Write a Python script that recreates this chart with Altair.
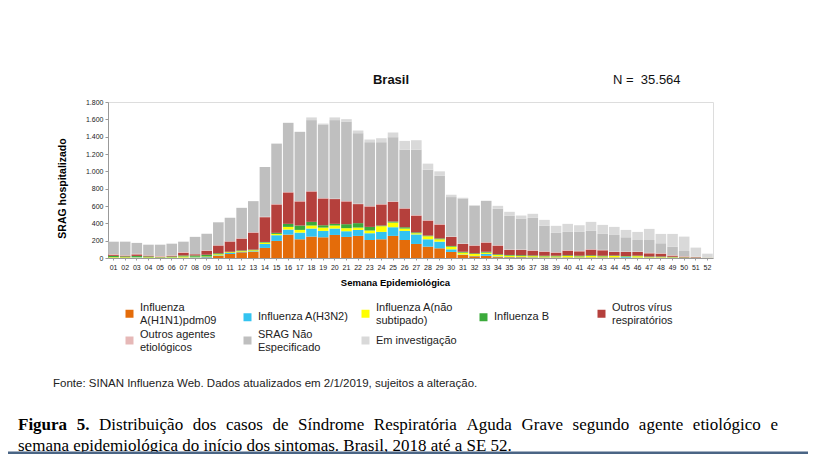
import altair as alt
import pandas as pd

weeks = [f"{i:02d}" for i in range(1, 53)]

h1n1 = [2, 2, 2, 1, 1, 1, 3, 3, 6, 27, 46, 66, 73, 116, 197, 270, 216, 247, 239, 266,
        243, 255, 208, 216, 255, 208, 162, 131, 112, 70, 35, 20, 25, 10, 8, 8, 5, 5, 5, 5,
        5, 5, 5, 5, 3, 3, 3, 3, 3, 2, 1, 0]
h3n2 = [2, 1, 6, 1, 1, 2, 4, 5, 5, 5, 12, 5, 6, 46, 66, 58, 77, 93, 74, 74,
        66, 69, 78, 85, 100, 105, 110, 85, 77, 30, 5, 4, 22, 8, 4, 4, 4, 3, 3, 3,
        3, 3, 3, 3, 8, 3, 3, 3, 2, 1, 1, 0]
a_ns = [6, 6, 4, 6, 4, 5, 10, 5, 6, 10, 8, 8, 10, 16, 15, 31, 31, 35, 38, 35,
        35, 27, 31, 66, 54, 27, 14, 35, 27, 31, 22, 22, 15, 17, 15, 10, 12, 10, 10, 15,
        10, 15, 10, 15, 5, 15, 5, 5, 4, 2, 1, 1]
flu_b = [15, 10, 12, 10, 4, 10, 12, 15, 20, 12, 5, 8, 8, 7, 12, 35, 51, 42, 27, 19,
         46, 51, 42, 8, 12, 15, 10, 8, 10, 8, 10, 8, 10, 8, 8, 10, 8, 8, 8, 8,
         8, 8, 8, 6, 6, 6, 6, 6, 5, 3, 2, 1]
outros_virus = [13, 8, 18, 9, 5, 9, 33, 14, 48, 89, 118, 137, 196, 286, 328, 363, 278, 351, 309, 286,
                263, 220, 236, 243, 228, 216, 194, 173, 160, 104, 90, 89, 106, 100, 58, 61, 56, 47, 36, 54,
                51, 66, 63, 40, 47, 42, 37, 33, 13, 7, 5, 1]
outros_agentes = [7, 6, 6, 4, 8, 5, 6, 5, 5, 5, 5, 5, 5, 5, 5, 5, 5, 5, 5, 5,
                  5, 5, 5, 5, 5, 5, 5, 5, 5, 5, 5, 5, 5, 5, 5, 5, 5, 5, 5, 5,
                  5, 5, 5, 5, 5, 5, 5, 5, 5, 5, 3, 1]
srag_ne = [142, 155, 125, 122, 130, 133, 120, 195, 190, 265, 269, 350, 358, 574, 697, 798, 798, 818, 849, 906,
           917, 813, 736, 713, 740, 675, 756, 582, 559, 455, 520, 454, 477, 420, 388, 358, 373, 293, 223, 211,
           219, 211, 184, 192, 165, 134, 149, 115, 99, 61, 2, 1]
em_invest = [3, 2, 2, 2, 2, 2, 2, 3, 0, 2, 0, 0, 0, 0, 0, 0, 0, 31, 10, 31,
             27, 31, 31, 46, 54, 100, 108, 70, 50, 27, 8, 8, 0, 34, 47, 34, 47, 69, 81, 93,
             77, 104, 104, 93, 85, 93, 128, 108, 147, 166, 105, 45]

series_names = ["Influenza|A(H1N1)pdm09", "Influenza A(H3N2)", "Influenza A(não|subtipado)",
                "Influenza B", "Outros vírus|respiratórios", "Outros agentes|etiológicos",
                "SRAG Não|Especificado", "Em investigação"]
series_values = [h1n1, h3n2, a_ns, flu_b, outros_virus, outros_agentes, srag_ne, em_invest]
series_colors = ["#E46C0A", "#33C3F0", "#FFFF00", "#3BAA3B", "#B5403C", "#E6B8B7", "#BFBFBF", "#D9D9D9"]

y_ticks = [0, 200, 400, 600, 800, 1000, 1200, 1400, 1600, 1800]

title_text = "Brasil"
n_text = "N = \u00a035.564"
fonte_text = "Fonte: SINAN Influenza Web. Dados atualizados em 2/1/2019, sujeitos a alteração."
caption_line1 = [("Figura", True), ("5.", True), ("Distribuição", False), ("dos", False),
                 ("casos", False), ("de", False), ("Síndrome", False), ("Respiratória", False),
                 ("Aguda", False), ("Grave", False), ("segundo", False), ("agente", False),
                 ("etiológico", False), ("e", False)]
caption_line2 = "semana epidemiológica do início dos sintomas. Brasil, 2018 até a SE 52."

rows = []
for k, (name, vals) in enumerate(zip(series_names, series_values)):
    for w, v in zip(weeks, vals):
        rows.append({"semana": w, "agente": name, "casos": v, "ordem": k})
df = pd.DataFrame(rows)

FONT = "Liberation Sans"
SERIF = "Liberation Serif"
CAP_SIZE = 17

# Times / Liberation Serif advance widths (per 1000 em) for justifying the caption line
_reg = {" ": 250, "a": 444, "b": 500, "c": 444, "d": 500, "e": 444, "f": 333, "g": 500, "h": 500,
        "i": 278, "j": 278, "k": 500, "l": 278, "m": 778, "n": 500, "o": 500, "p": 500, "q": 500,
        "r": 333, "s": 389, "t": 278, "u": 500, "v": 500, "w": 722, "x": 500, "y": 500, "z": 444,
        "A": 722, "D": 722, "G": 722, "R": 667, "S": 556, "í": 278, "ó": 500, "ç": 444, "ã": 444,
        "é": 444, ".": 250, ",": 250}
_bold = {"F": 611, "i": 278, "g": 500, "u": 556, "r": 444, "a": 500, "5": 500, ".": 250}


def word_width(word, bold):
    table = _bold if bold else _reg
    return sum(table.get(ch, 500) for ch in word) * CAP_SIZE / 1000.0


line_left, line_right = -90, 670
widths = [word_width(w, b) for w, b in caption_line1]
gap = (line_right - line_left - sum(widths)) / (len(widths) - 1)
pos = []
cur = line_left
for wd in widths:
    pos.append(cur)
    cur += wd + gap
cap1_df = pd.DataFrame({"t": [w for w, _ in caption_line1], "px": pos,
                        "bold": [b for _, b in caption_line1]})

bars = alt.Chart(df).mark_bar().encode(
    x=alt.X("semana:O", sort=weeks,
            scale=alt.Scale(paddingInner=0.09, paddingOuter=0.02),
            axis=alt.Axis(title="Semana Epidemiológica", labelAngle=0, labelFontSize=7,
                          labelFont=FONT, labelColor="#222", labelPadding=3,
                          ticks=True, tickSize=2, tickColor="#999", domainColor="#999",
                          titleFont=FONT, titleFontSize=9.5, titleFontWeight="bold",
                          titleX=287, titleY=24, titleBaseline="middle")),
    y=alt.Y("sum(casos):Q", stack="zero",
            scale=alt.Scale(domain=[0, 1800], nice=False),
            axis=alt.Axis(title="SRAG hospitalizado", values=y_ticks, grid=False,
                          labelExpr="replace(format(datum.value, ','), ',', '.')",
                          labelFontSize=7, labelFont=FONT, labelColor="#222",
                          tickSize=3, tickColor="#999", domainColor="#999", labelPadding=2,
                          titleFont=FONT, titleFontSize=10.5, titleFontWeight="bold",
                          titleX=-46, titleY=86, titleAngle=-90,
                          titleAlign="center", titleBaseline="middle")),
    color=alt.Color("agente:N", sort=series_names,
                    scale=alt.Scale(domain=series_names, range=series_colors),
                    legend=alt.Legend(title=None, orient="none", legendX=16, legendY=206,
                                      direction="horizontal", columns=5,
                                      symbolType="square", symbolSize=64,
                                      symbolStrokeWidth=0, labelFont=FONT, labelFontSize=11,
                                      labelColor="#222", labelExpr="split(datum.label, '|')",
                                      labelBaseline={"expr": "indexof(datum.label, '|') >= 0 ? 'line-bottom' : 'middle'"},
                                      labelLimit=300, labelOffset=5, columnPadding=11,
                                      rowPadding=2, gridAlign="all")),
    order=alt.Order("ordem:Q", sort="ascending"),
)

title = alt.Chart(pd.DataFrame({"t": [title_text]})).mark_text(
    font=FONT, fontSize=13, fontWeight="bold", align="center", baseline="middle", color="#111"
).encode(x=alt.value(283), y=alt.value(-22), text="t:N")

ntext = alt.Chart(pd.DataFrame({"t": [n_text]})).mark_text(
    font=FONT, fontSize=13, align="left", baseline="middle", color="#111"
).encode(x=alt.value(505), y=alt.value(-22), text="t:N")

fonte = alt.Chart(pd.DataFrame({"t": [fonte_text]})).mark_text(
    font=FONT, fontSize=11.5, align="left", baseline="middle", color="#222"
).encode(x=alt.value(-55), y=alt.value(282), text="t:N")

cap1_bold = alt.Chart(cap1_df[cap1_df["bold"]]).mark_text(
    font=SERIF, fontSize=CAP_SIZE, fontWeight="bold", align="left", baseline="alphabetic", color="#000"
).encode(x=alt.X("px:Q", scale=None), y=alt.value(328), text="t:N")

cap1_reg = alt.Chart(cap1_df[~cap1_df["bold"]]).mark_text(
    font=SERIF, fontSize=CAP_SIZE, align="left", baseline="alphabetic", color="#000"
).encode(x=alt.X("px:Q", scale=None), y=alt.value(328), text="t:N")

cap2 = alt.Chart(pd.DataFrame({"t": [caption_line2]})).mark_text(
    font=SERIF, fontSize=CAP_SIZE, align="left", baseline="alphabetic", color="#000"
).encode(x=alt.value(-90), y=alt.value(349), text="t:N")

bottom_line = alt.Chart(pd.DataFrame({"a": [0]})).mark_rule(color="#4A6585", strokeWidth=3).encode(
    x=alt.value(-108), x2=alt.value(700), y=alt.value(351))

chart = alt.layer(bars, title, ntext, fonte, cap1_bold, cap1_reg, cap2, bottom_line).properties(
    width=605, height=156,
    autosize=alt.AutoSizeParams(type="none"),
    padding={"left": 100, "top": 94, "right": 96, "bottom": 196},
).configure_view(stroke=None).configure(background="white")

chart.save("out.html", embed_options={"renderer": "svg", "actions": False})
